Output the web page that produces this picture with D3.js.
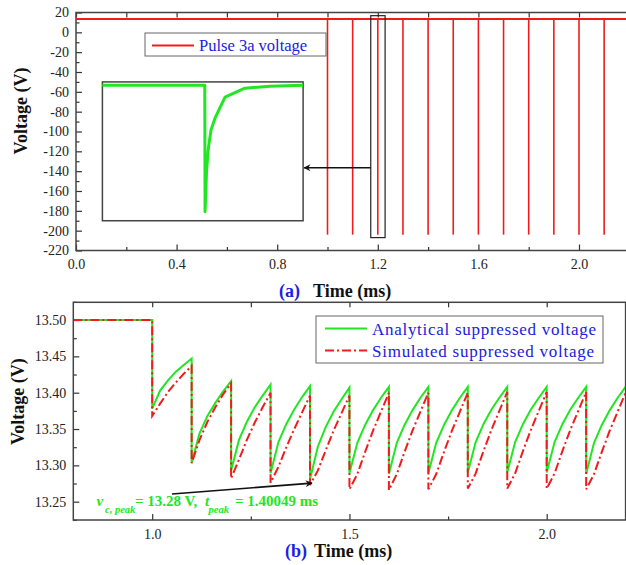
<!DOCTYPE html>
<meta charset="utf-8">
<style>
  body { margin: 0; background: #fff; }
  .tick text { font-size: 14px; fill: #222; }
  .tick line { stroke: #333; stroke-width: 1.2; }
  .frame { fill: none; stroke: #444; stroke-width: 1.5; }
  .title { font-size: 18px; font-weight: bold; fill: #111; }
  .blue { fill: #2020e0; }
</style>
<body>
<svg width="626" height="565"></svg>
<script src="https://cdn.jsdelivr.net/npm/d3@7"></script>
<script>

// ---- data ----
// panel (a): pulse train
var pulseTimes = [1.0, 1.1, 1.2, 1.3, 1.4, 1.5, 1.6, 1.7, 1.8, 1.9, 2.0, 2.1];
var pulseDepth = [-204, -204, -204, -204, -204, -204, -204, -204, -204, -204, -204, -204];
var pulseBase = 13.5;

// inset: one pulse zoomed (time in us relative to pulse)
var insetT = [-5.1, 0.0, 0.015, 0.09, 0.18, 0.31, 0.51, 1.01, 2.0, 3.25, 4.9];
var insetV = [13.4, 13.4, -182, -118, -84, -56, -37.5, -5, 8.8, 11.9, 13.4];

// panel (b): suppressed voltage
var timeB = [0.8, 1.0,
  1.0, 1.02, 1.04, 1.06, 1.08, 1.1,
  1.1, 1.12, 1.14, 1.16, 1.18, 1.2,
  1.2, 1.22, 1.24, 1.26, 1.28, 1.3,
  1.3, 1.32, 1.34, 1.36, 1.38, 1.4,
  1.4, 1.42, 1.44, 1.46, 1.48, 1.5,
  1.5, 1.52, 1.54, 1.56, 1.58, 1.6,
  1.6, 1.62, 1.64, 1.66, 1.68, 1.7,
  1.7, 1.72, 1.74, 1.76, 1.78, 1.8,
  1.8, 1.82, 1.84, 1.86, 1.88, 1.9,
  1.9, 1.92, 1.94, 1.96, 1.98, 2.0,
  2.0, 2.02, 2.04, 2.06, 2.08, 2.1,
  2.1, 2.12, 2.14, 2.16, 2.18, 2.2];
var analytical = [13.50, 13.50,
  13.378, 13.403, 13.417, 13.429, 13.438, 13.447,
  13.304, 13.344, 13.368, 13.386, 13.402, 13.416,
  13.293, 13.335, 13.360, 13.380, 13.396, 13.411,
  13.289, 13.332, 13.357, 13.377, 13.394, 13.409,
  13.281, 13.326, 13.353, 13.374, 13.391, 13.407,
  13.289, 13.331, 13.356, 13.376, 13.393, 13.408,
  13.288, 13.331, 13.356, 13.376, 13.393, 13.408,
  13.289, 13.331, 13.356, 13.376, 13.393, 13.408,
  13.290, 13.332, 13.357, 13.377, 13.393, 13.408,
  13.290, 13.332, 13.357, 13.377, 13.393, 13.408,
  13.290, 13.332, 13.357, 13.377, 13.393, 13.408,
  13.288, 13.331, 13.356, 13.376, 13.393, 13.408];
var simulated = [13.50, 13.50,
  13.368, 13.385, 13.401, 13.414, 13.426, 13.437,
  13.303, 13.335, 13.360, 13.380, 13.398, 13.413,
  13.282, 13.308, 13.335, 13.359, 13.380, 13.400,
  13.276, 13.298, 13.325, 13.350, 13.373, 13.396,
  13.273, 13.293, 13.321, 13.348, 13.372, 13.396,
  13.267, 13.288, 13.319, 13.348, 13.374, 13.400,
  13.266, 13.288, 13.319, 13.348, 13.374, 13.400,
  13.267, 13.288, 13.319, 13.348, 13.374, 13.400,
  13.268, 13.289, 13.320, 13.349, 13.375, 13.401,
  13.268, 13.289, 13.320, 13.349, 13.375, 13.401,
  13.268, 13.289, 13.320, 13.349, 13.375, 13.401,
  13.267, 13.288, 13.319, 13.348, 13.374, 13.400];

var xTicksA = [0.0, 0.4, 0.8, 1.2, 1.6, 2.0];
var yTicksA = [20, 0, -20, -40, -60, -80, -100, -120, -140, -160, -180, -200, -220];
var xTicksB = [1.0, 1.5, 2.0];
var yTicksB = [13.25, 13.30, 13.35, 13.40, 13.45, 13.50];

var green = "#22e622", red = "#f01c1c";
var serif = "'Liberation Serif', 'Times New Roman', serif";

var svg = d3.select("svg");

var defs = svg.append("defs");
defs.append("marker").attr("id", "head")
    .attr("viewBox", "0 0 10 10").attr("refX", 9).attr("refY", 5)
    .attr("markerWidth", 9).attr("markerHeight", 7).attr("markerUnits", "userSpaceOnUse")
    .attr("orient", "auto")
  .append("path").attr("d", "M0,0 L10,5 L0,10 L3,5 Z").attr("fill", "#111");
defs.append("clipPath").attr("id", "clipB")
  .append("rect").attr("x", 73.3).attr("y", 302.3).attr("width", 552.3).attr("height", 217.7);

// ================= panel (a) =================
var xA = d3.scaleLinear().domain([0, 2.2]).range([76, 629.3]);
var yA = d3.scaleLinear().domain([-220, 20]).range([250.5, 12.5]);

function range(a, b, s) { var r = []; for (var v = a; v <= b + 1e-9; v += s) r.push(+v.toFixed(4)); return r; }

var gA = svg.append("g");
// minor ticks
gA.append("g").attr("transform", "translate(" + xA(0) + ",0)")
    .call(d3.axisLeft(yA).tickValues(range(-210, 10, 20)).tickSize(-3.5).tickFormat(""));
gA.append("g").attr("transform", "translate(0," + yA(-220) + ")")
    .call(d3.axisBottom(xA).tickValues(range(0.2, 2.2, 0.4)).tickSize(-3.5).tickFormat(""));
// major ticks
gA.append("g").attr("transform", "translate(" + xA(0) + ",0)")
    .call(d3.axisLeft(yA).tickValues(yTicksA).tickSize(-6).tickPadding(7).tickFormat(function (d) { return String(d); }));
gA.append("g").attr("transform", "translate(0," + yA(-220) + ")")
    .call(d3.axisBottom(xA).tickValues(xTicksA).tickSize(-6).tickPadding(9).tickFormat(d3.format(".1f")));
gA.append("g").attr("transform", "translate(0," + yA(20) + ")")
    .call(d3.axisTop(xA).tickValues(range(0, 2.2, 0.2)).tickSize(-5).tickFormat(""));
gA.selectAll(".domain").remove();
gA.append("rect").attr("class", "frame")
    .attr("x", xA(0)).attr("y", yA(20)).attr("width", xA(2.2) - xA(0) + 5).attr("height", yA(-220) - yA(20));

// pulse train
gA.append("line").attr("x1", xA(0)).attr("x2", xA(2.2)).attr("y1", yA(pulseBase)).attr("y2", yA(pulseBase))
    .attr("stroke", red).attr("stroke-width", 2);
gA.selectAll(".pulse").data(pulseTimes).enter().append("line").attr("class", "pulse")
    .attr("x1", function (d) { return xA(d); }).attr("x2", function (d) { return xA(d); })
    .attr("y1", yA(pulseBase))
    .attr("y2", function (d, i) { return yA(pulseDepth[i]); })
    .attr("stroke", red).attr("stroke-width", 1.6);

// zoom box and arrow
gA.append("rect").attr("fill", "none").attr("stroke", "#222").attr("stroke-width", 1.2)
    .attr("x", xA(1.172)).attr("y", yA(16.8)).attr("width", xA(1.229) - xA(1.172)).attr("height", yA(-207) - yA(16.8));
gA.append("line").attr("x1", xA(1.172)).attr("y1", yA(-136.5)).attr("x2", xA(0.903) + 1).attr("y2", yA(-136.5))
    .attr("stroke", "#111").attr("stroke-width", 1.6).attr("marker-end", "url(#head)");

// inset
var ix0 = xA(0.105), ix1 = xA(0.903), iy0 = yA(-50), iy1 = yA(-190);
var xI = d3.scaleLinear().domain([-5.1, 4.9]).range([ix0, ix1]);
var yI = d3.scaleLinear().domain([-196, 18.5]).range([iy1, iy0]);
gA.append("rect").attr("fill", "#fff").attr("stroke", "#444").attr("stroke-width", 1.5)
    .attr("x", ix0).attr("y", iy0).attr("width", ix1 - ix0).attr("height", iy1 - iy0);
gA.append("path").datum(d3.range(insetT.length))
    .attr("fill", "none").attr("stroke", green).attr("stroke-width", 3).attr("stroke-linejoin", "round")
    .attr("d", d3.line().x(function (i) { return xI(insetT[i]); }).y(function (i) { return yI(insetV[i]); }));

// legend (a)
var lgA = gA.append("g");
lgA.append("rect").attr("x", 145).attr("y", 33).attr("width", 181).attr("height", 23)
    .attr("fill", "#fff").attr("stroke", "#666").attr("stroke-width", 1);
lgA.append("line").attr("x1", 152).attr("x2", 194).attr("y1", 45.5).attr("y2", 45.5).attr("stroke", red).attr("stroke-width", 2);
lgA.append("text").attr("class", "blue").attr("x", 199).attr("y", 51).style("font-size", "16.5px").text("Pulse 3a voltage");

// titles (a)
svg.append("text").attr("class", "title").attr("text-anchor", "middle")
    .attr("transform", "translate(26.5,111) rotate(-90)").text("Voltage (V)");
svg.append("text").attr("class", "title blue").attr("x", 279).attr("y", 296.5).text("(a)");
svg.append("text").attr("class", "title").attr("x", 313).attr("y", 296.5).text("Time (ms)");

// ================= panel (b) =================
var xB = d3.scaleLinear().domain([0.8, 2.2]).range([73.3, 625.6]);
var yB = d3.scaleLinear().domain([13.2248, 13.5244]).range([520, 302.3]);

var gB = svg.append("g");
gB.append("g").attr("transform", "translate(" + xB(0.8) + ",0)")
    .call(d3.axisLeft(yB).tickValues(range(13.225, 13.525, 0.05)).tickSize(-3.5).tickFormat(""));
gB.append("g").attr("transform", "translate(" + xB(0.8) + ",0)")
    .call(d3.axisLeft(yB).tickValues(yTicksB).tickSize(-6).tickPadding(7).tickFormat(d3.format(".2f")));
gB.append("g").attr("transform", "translate(0," + yB.range()[0] + ")")
    .call(d3.axisBottom(xB).tickValues([1.25, 1.75]).tickSize(-3.5).tickFormat(""));
gB.append("g").attr("transform", "translate(0," + yB.range()[0] + ")")
    .call(d3.axisBottom(xB).tickValues(xTicksB).tickSize(-6).tickPadding(9).tickFormat(d3.format(".1f")));
gB.append("g").attr("transform", "translate(0," + yB.range()[1] + ")")
    .call(d3.axisTop(xB).tickValues([1.0, 1.25, 1.5, 1.75, 2.0]).tickSize(-5).tickFormat(""));
gB.selectAll(".domain").remove();

var lineB = function (vals) {
  return d3.line().x(function (i) { return xB(timeB[i]); }).y(function (i) { return yB(vals[i]); })(d3.range(timeB.length));
};
var plotB = gB.append("g").attr("clip-path", "url(#clipB)");
plotB.append("path").attr("d", lineB(analytical))
    .attr("fill", "none").attr("stroke", green).attr("stroke-width", 2);
plotB.append("path").attr("d", lineB(simulated))
    .attr("fill", "none").attr("stroke", red).attr("stroke-width", 2).attr("stroke-dasharray", "9,3,2,3");

gB.append("rect").attr("class", "frame")
    .attr("x", xB(0.8)).attr("y", yB.range()[1]).attr("width", xB(2.2) - xB(0.8)).attr("height", yB.range()[0] - yB.range()[1]);

// legend (b)
var lgB = gB.append("g");
lgB.append("rect").attr("x", 316).attr("y", 316).attr("width", 287).attr("height", 47)
    .attr("fill", "#fff").attr("stroke", "#666").attr("stroke-width", 1);
lgB.append("line").attr("x1", 325).attr("x2", 367).attr("y1", 328.5).attr("y2", 328.5).attr("stroke", green).attr("stroke-width", 2);
lgB.append("line").attr("x1", 325).attr("x2", 367).attr("y1", 350.5).attr("y2", 350.5).attr("stroke", red).attr("stroke-width", 2).attr("stroke-dasharray", "9,3,2,3");
lgB.append("text").attr("class", "blue").attr("x", 372).attr("y", 335).attr("textLength", 224)
    .style("font-size", "17px").text("Analytical suppressed voltage");
lgB.append("text").attr("class", "blue").attr("x", 372).attr("y", 357).attr("textLength", 222)
    .style("font-size", "17px").text("Simulated suppressed voltage");

// annotation
var ann = gB.append("g").style("font-weight", "bold").attr("fill", green);
ann.append("text").attr("x", 96.5).attr("y", 506).style("font-size", "15px").style("font-style", "italic").text("v");
ann.append("text").attr("x", 105).attr("y", 513).style("font-size", "10.5px").style("font-style", "italic").text("c, peak");
ann.append("text").attr("x", 135).attr("y", 506).style("font-size", "15px").text("= 13.28 V,");
ann.append("text").attr("x", 205).attr("y", 506).style("font-size", "15px").style("font-style", "italic").text("t");
ann.append("text").attr("x", 208.5).attr("y", 513).style("font-size", "10.5px").style("font-style", "italic").text("peak");
ann.append("text").attr("x", 235).attr("y", 506).style("font-size", "15px").text("= 1.40049 ms");
gB.append("line").attr("x1", xB(1.05)).attr("y1", yB(13.2606)).attr("x2", xB(1.405)).attr("y2", yB(13.2755))
    .attr("stroke", "#111").attr("stroke-width", 1.6).attr("marker-end", "url(#head)");

// titles (b)
svg.append("text").attr("class", "title").attr("text-anchor", "middle")
    .attr("transform", "translate(23.5,401.7) rotate(-90)").text("Voltage (V)");
svg.append("text").attr("class", "title blue").attr("x", 285).attr("y", 556.5).text("(b)");
svg.append("text").attr("class", "title").attr("x", 314).attr("y", 556.5).text("Time (ms)");

// serif everywhere (d3 axes set sans-serif on their groups)
svg.selectAll("g").attr("font-family", null);
svg.selectAll("text").style("font-family", serif);
</script>
</body>
